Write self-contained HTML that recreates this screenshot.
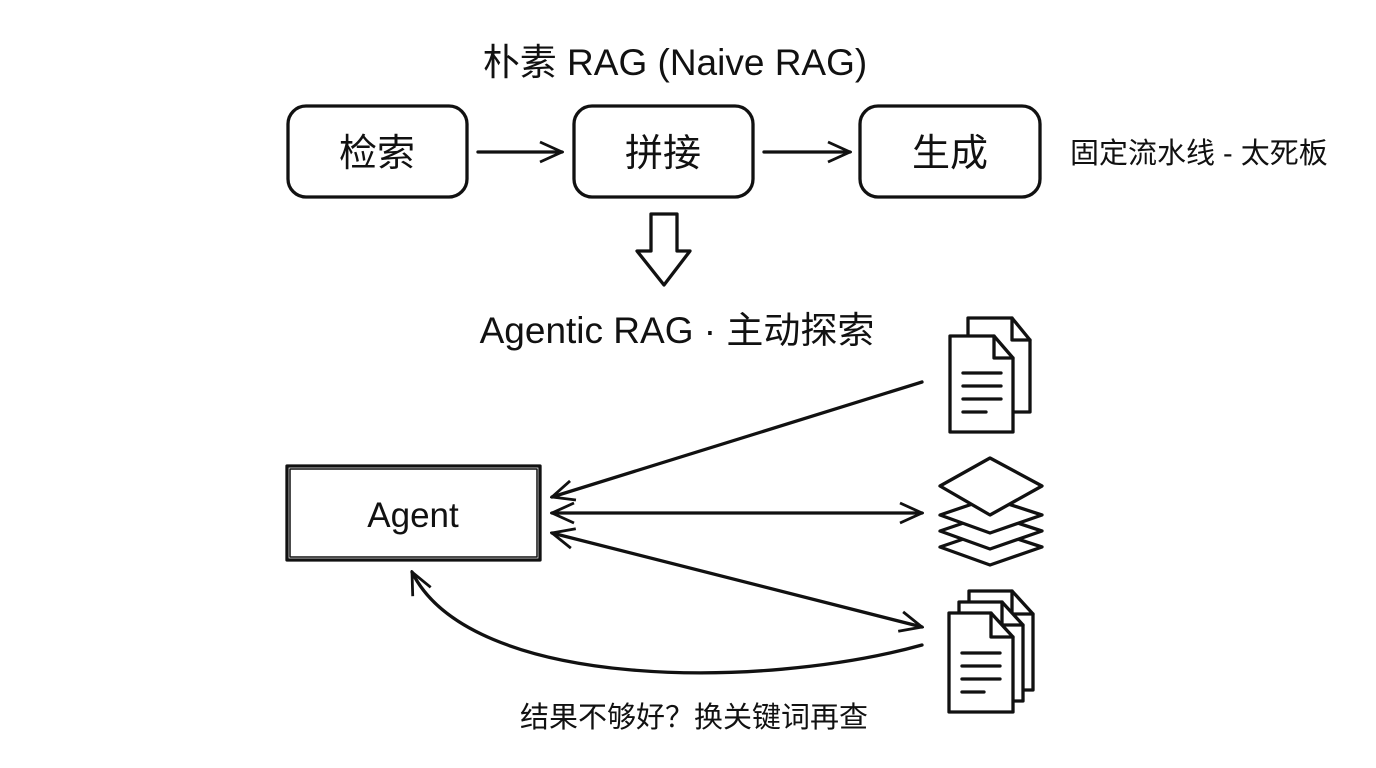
<!DOCTYPE html>
<html><head><meta charset="utf-8"><style>
body{margin:0;width:1376px;height:768px;background:#fff;overflow:hidden}
svg{position:absolute;left:0;top:0}
text{font-family:"Liberation Sans","Noto Sans CJK SC",sans-serif;fill:#111}
</style></head><body>
<svg width="1376" height="768" viewBox="0 0 1376 768">
<defs>
<marker id="b" markerWidth="26" markerHeight="26" refX="24" refY="13" orient="auto-start-reverse" markerUnits="userSpaceOnUse"><path d="M2,3 L24,13 L2,23" fill="none" stroke="#111" stroke-width="2.8"/></marker>
</defs>
<g stroke="#111" stroke-width="3.3" fill="none" stroke-linecap="round" stroke-linejoin="round">
<rect x="288" y="106" width="179" height="91" rx="18"/>
<rect x="574" y="106" width="179" height="91" rx="18"/>
<rect x="860" y="106" width="180" height="91" rx="18"/>
<line x1="478" y1="152" x2="562" y2="152" marker-end="url(#b)"/>
<line x1="764" y1="152" x2="850" y2="152" marker-end="url(#b)"/>
<path d="M651,214 L677,214 L677,251 L690,251 L664,285 L637,251 L651,251 Z"/>
<rect x="287" y="466" width="253" height="94"/>
<rect x="290" y="469" width="247" height="88" stroke-width="1.5"/>
<line x1="922" y1="382" x2="552" y2="497" marker-end="url(#b)"/>
<line x1="552" y1="513" x2="922" y2="513" marker-end="url(#b)" marker-start="url(#b)"/>
<line x1="552" y1="533" x2="922" y2="627" marker-end="url(#b)" marker-start="url(#b)"/>
<path d="M922,645 C760,690 470,690 412,572" marker-end="url(#b)"/>
<path d="M968,412 L968,318 L1012,318 L1030,340 L1030,412 Z" fill="#fff"/>
<path d="M1012,318 L1012,340 L1030,340"/>
<path d="M950,432 L950,336 L994,336 L1013,358 L1013,432 Z" fill="#fff"/>
<path d="M994,336 L994,358 L1013,358"/>
<line x1="963" y1="373" x2="1001" y2="373"/><line x1="963" y1="386" x2="1001" y2="386"/><line x1="963" y1="399" x2="1001" y2="399"/><line x1="963" y1="412" x2="986" y2="412"/>
<path d="M990,530 L1042,547 L990,565 L940,547 Z" fill="#fff"/>
<path d="M990,514 L1042,531 L990,549 L940,531 Z" fill="#fff"/>
<path d="M990,498 L1042,515 L990,533 L940,515 Z" fill="#fff"/>
<path d="M990,458 L1042,486 L990,515 L940,486 Z" fill="#fff"/>
<path d="M969,690 L969,591 L1012,591 L1033,614 L1033,690 Z" fill="#fff"/>
<path d="M1012,591 L1012,614 L1033,614"/>
<path d="M959,701 L959,602 L1002,602 L1023,625 L1023,701 Z" fill="#fff"/>
<path d="M1002,602 L1002,625 L1023,625"/>
<path d="M949,712 L949,613 L991,613 L1013,637 L1013,712 Z" fill="#fff"/>
<path d="M991,613 L991,637 L1013,637"/>
<line x1="962" y1="653" x2="1000" y2="653"/><line x1="962" y1="666" x2="1000" y2="666"/><line x1="962" y1="679" x2="1000" y2="679"/><line x1="962" y1="692" x2="984" y2="692"/>
</g>
<text x="675" y="75" font-size="37" text-anchor="middle">朴素 RAG (Naive RAG)</text>
<text x="377" y="166" font-size="38" text-anchor="middle">检索</text>
<text x="663" y="166" font-size="38" text-anchor="middle">拼接</text>
<text x="950" y="166" font-size="38" text-anchor="middle">生成</text>
<text x="1070" y="163" font-size="29">固定流水线 - 太死板</text>
<text x="677" y="343" font-size="37" text-anchor="middle">Agentic RAG · 主动探索</text>
<text x="413" y="527" font-size="35" text-anchor="middle">Agent</text>
<text x="694" y="727" font-size="29" text-anchor="middle">结果不够好？换关键词再查</text>
</svg>
</body></html>
